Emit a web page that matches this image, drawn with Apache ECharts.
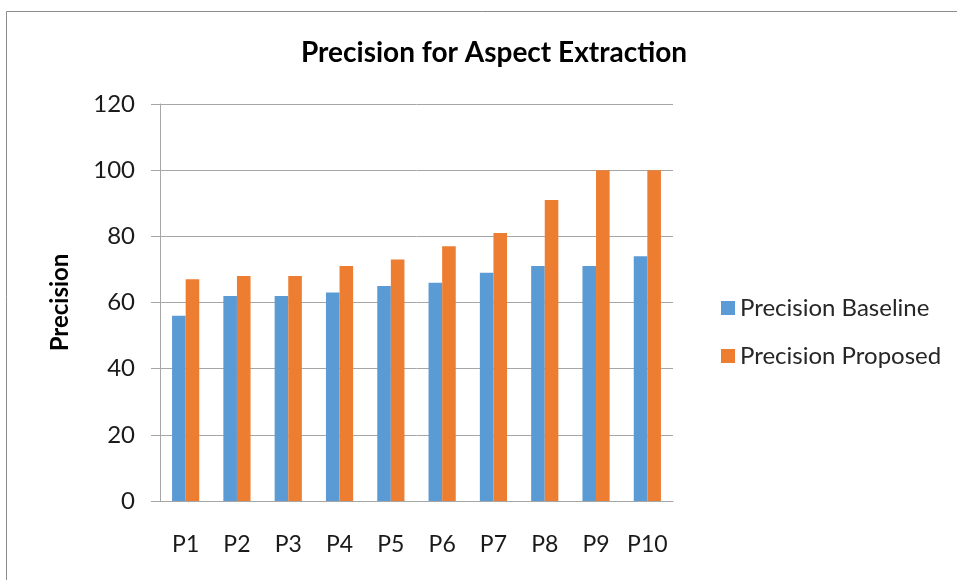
<!DOCTYPE html>
<html lang="en" style="height: 100%">
<head>
  <meta charset="utf-8">
</head>
<body style="height: 100%; margin: 0; background: #fff">
  <div id="container" style="width: 957px; height: 580px"></div>

  <script type="text/javascript" src="https://cdn.jsdelivr.net/npm/echarts@6/dist/echarts.min.js"></script>

  <script type="text/javascript">
    var categories = ['P1', 'P2', 'P3', 'P4', 'P5', 'P6', 'P7', 'P8', 'P9', 'P10'];
    var baseline = [56, 62, 62, 63, 65, 66, 69, 71, 71, 74];
    var proposed = [67, 68, 68, 71, 73, 77, 81, 91, 100, 100];
    var yTicks = [0, 20, 40, 60, 80, 100, 120];

    var font = 'Lato, "Open Sans", sans-serif';
    var myChart = echarts.init(document.getElementById('container'), null, { renderer: 'canvas' });

    var option = {
      backgroundColor: '#fff',
      animation: false,
      title: {
        text: 'Precision for Aspect Extraction',
        left: 489,
        top: 34,
        textAlign: 'center',
        textStyle: { fontFamily: font, fontSize: 28, fontWeight: 'bold', color: '#000' }
      },
      graphic: [{
        type: 'rect',
        shape: { x: 6.5, y: 11.5, width: 1000, height: 1000 },
        style: { fill: 'none', stroke: '#8c8c8c', lineWidth: 1 },
        silent: true
      }],
      legend: {
        orient: 'vertical',
        left: 716,
        top: 291,
        itemWidth: 14,
        itemHeight: 14,
        itemGap: 24,
        icon: 'rect',
        textStyle: { fontFamily: font, fontSize: 24, color: '#262626' },
        data: ['Precision Baseline', 'Precision Proposed']
      },
      grid: { left: 160, right: 284, top: 104, bottom: 79 },
      xAxis: {
        type: 'category',
        data: categories,
        axisLine: { lineStyle: { color: '#a6a6a6', width: 1 } },
        axisTick: { show: false },
        axisLabel: { fontFamily: font, fontSize: 23, color: '#1a1a1a', margin: 32, interval: 0 }
      },
      yAxis: {
        type: 'value',
        min: yTicks[0],
        max: yTicks[yTicks.length - 1],
        interval: 20,
        name: 'Precision',
        nameLocation: 'middle',
        nameRotate: 90,
        nameGap: 88,
        nameTextStyle: { fontFamily: font, fontSize: 24, fontWeight: 'bold', color: '#000' },
        axisLine: { show: true, lineStyle: { color: '#a6a6a6', width: 1 } },
        axisTick: { show: true, length: 9, lineStyle: { color: '#a6a6a6' } },
        splitLine: { lineStyle: { color: '#a6a6a6', width: 1 } },
        axisLabel: { fontFamily: font, fontSize: 24, color: '#1a1a1a', margin: 25 }
      },
      series: [{
        name: 'Precision Baseline',
        type: 'bar',
        data: baseline,
        itemStyle: { color: '#5b9bd5' },
        barGap: '0%',
        barCategoryGap: '47%'
      }, {
        name: 'Precision Proposed',
        type: 'bar',
        data: proposed,
        itemStyle: { color: '#ed7d31' }
      }]
    };

    myChart.setOption(option);
    window.addEventListener('resize', myChart.resize);
  </script>
</body>
</html>
